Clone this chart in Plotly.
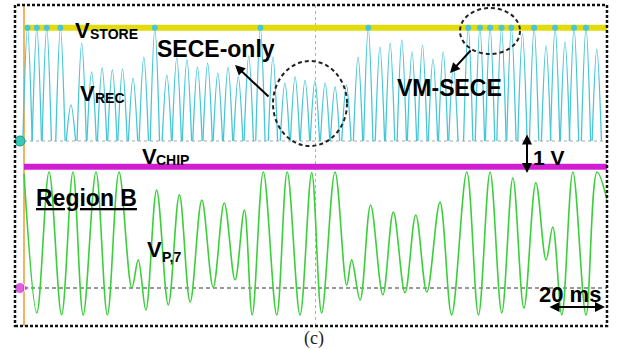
import plotly.graph_objects as go

# ---------------------------------------------------------------
# Oscilloscope capture, 20 ms/div, 1 V/div (10 x 8 divisions)
# ---------------------------------------------------------------
T_SPAN = 200.0          # ms across the screen
N_DIV_Y = 8

# channel ground levels, in divisions from the bottom of the screen
REC_GND = 4.61          # V_REC / V_STORE
VP_GND = 0.947          # V_P,7 / V_CHIP

V_STORE = 2.82          # V
V_CHIP = 3.02           # V

# V_REC: rectified pulses (time of each pulse peak in ms, peak voltage in V)
rec_t = [1.2, 4.4, 7.8, 12.5, 16.1, 19.8, 23.2, 26.8, 30.3, 33.8, 37.4, 41.1,
         44.9, 49.0, 52.4, 55.9, 59.5, 63.0, 66.5, 70.0, 73.5, 77.1, 81.1, 85.4,
         89.5, 93.0, 96.4, 99.8, 103.3, 106.7, 110.6, 114.6, 118.1, 122.1, 125.6,
         129.6, 133.1, 136.7, 140.3, 143.8, 147.3, 152.4, 156.4, 159.9, 163.8,
         167.2, 171.0, 175.0, 179.1, 182.2, 185.6, 188.7, 192.8, 196.5]
rec_v = [2.82, 2.82, 2.82, 2.82, 0.90, 2.44, 1.72, 1.82, 1.77, 1.79, 1.57, 2.09,
         2.82, 1.64, 2.07, 2.02, 1.84, 1.94, 1.69, 1.84, 1.60, 2.12, 2.82, 2.09,
         1.45, 1.60, 1.52, 1.50, 1.45, 1.35, 1.40, 2.09, 2.82, 2.34, 2.44, 2.52,
         2.22, 2.39, 2.04, 2.22, 1.84, 2.82, 2.82, 2.82, 2.82, 2.82, 2.67, 2.82,
         2.37, 2.82, 2.47, 2.82, 2.82, 2.29]
REC_HALF_WIDTH = 1.6    # ms, half width of one rectified pulse

# V_P,7: piezo voltage, successive extrema (ms, V)
vp_t = [0.0, 4.4, 8.6, 12.9, 16.8, 20.3, 24.7, 28.6, 32.6, 37.0, 39.2, 41.8,
        45.5, 49.5, 53.3, 57.0, 61.0, 64.9, 68.7, 72.4, 75.6, 78.3, 82.1, 86.7,
        90.3, 94.7, 98.7, 102.1, 106.7, 110.7, 112.4, 115.3, 118.9, 123.1, 126.7,
        130.7, 134.4, 138.2, 142.7, 146.7, 151.9, 155.9, 159.9, 163.9, 167.7,
        171.5, 175.6, 179.1, 181.4, 184.5, 188.3, 192.8, 196.6, 200.0]
vp_v = [2.85, -0.62, 2.89, -0.67, 2.89, -0.67, 2.89, -0.67, 2.89, 0.00, 0.70,
        -0.55, 2.44, -0.42, 2.32, -0.35, 2.19, 0.02, 2.12, 0.20, 1.94, -0.67,
        2.89, -0.67, 2.89, -0.67, 2.87, -0.62, 2.89, 0.07, 0.70, -0.30, 2.07,
        -0.17, 1.89, -0.12, 1.82, -0.10, 2.14, -0.67, 2.89, -0.67, 2.89, -0.62,
        2.74, -0.50, 2.62, 0.70, 1.52, -0.67, 2.89, -0.67, 2.89, 2.20]

# ---------------------------------------------------------------
# page / screen geometry (pixels)
W, H = 623, 349
SCR_L, SCR_R, SCR_T, SCR_B = 15, 607, 5, 326
T0_PX = 24                                    # trigger position, t = 0
PX_PER_MS = (SCR_R - T0_PX) / T_SPAN
PX_PER_DIV = (SCR_B - SCR_T) / N_DIV_Y
T_MIN = -(T0_PX - SCR_L) / PX_PER_MS


def tx(px):
    return T_MIN + (px - SCR_L) / PX_PER_MS


def dy(py):
    return (SCR_B - py) / PX_PER_DIV


def paper_x(px):
    return (px - SCR_L) / (SCR_R - SCR_L)


def paper_y(py):
    return (SCR_B - py) / (SCR_B - SCR_T)


CYAN = "#46c6d6"
YELLOW = "#e2dc0c"
MAGENTA = "#d21ed2"
GREEN = "#3ccf3c"
ORANGE = "#f2b460"
SANS = "Liberation Sans, Arial, sans-serif"

fig = go.Figure()

# V_STORE
fig.add_trace(go.Scatter(x=[0, T_SPAN], y=[REC_GND + V_STORE] * 2, mode="lines",
                         line=dict(color=YELLOW, width=6), hoverinfo="skip"))

# V_REC pulses, one arch per pulse
px_, py_ = [], []
for t, v in zip(rec_t, rec_v):
    px_ += [t - REC_HALF_WIDTH, t, t + REC_HALF_WIDTH, None]
    py_ += [REC_GND, REC_GND + v, REC_GND, None]
fig.add_trace(go.Scatter(x=px_, y=py_, mode="lines", connectgaps=False,
                         line=dict(color=CYAN, width=1.3, shape="spline"),
                         hoverinfo="skip"))
# pulses clamped at V_STORE
top_t = [t for t, v in zip(rec_t, rec_v) if v >= V_STORE]
fig.add_trace(go.Scatter(x=top_t, y=[REC_GND + V_STORE] * len(top_t), mode="markers",
                         marker=dict(color=CYAN, size=6, symbol="circle"),
                         hoverinfo="skip"))

# V_P,7
fig.add_trace(go.Scatter(x=vp_t, y=[VP_GND + v for v in vp_v], mode="lines",
                         line=dict(color=GREEN, width=1.6, shape="spline"),
                         hoverinfo="skip"))

# V_CHIP
fig.add_trace(go.Scatter(x=[0, T_SPAN], y=[VP_GND + V_CHIP] * 2, mode="lines",
                         line=dict(color=MAGENTA, width=6), hoverinfo="skip"))

# channel ground markers
fig.add_trace(go.Scatter(x=[tx(20)], y=[REC_GND], mode="markers", cliponaxis=False,
                         marker=dict(color="#38c8b8", size=10,
                                     line=dict(color="#1a9a8a", width=1)),
                         hoverinfo="skip"))
fig.add_trace(go.Scatter(x=[tx(20), tx(26)], y=[VP_GND, VP_GND], mode="markers",
                         cliponaxis=False,
                         marker=dict(color=MAGENTA, size=[11, 6],
                                     symbol=["circle", "triangle-right"]),
                         hoverinfo="skip"))

shapes = [
    # trigger line
    dict(type="line", xref="x", yref="paper", x0=0, x1=0, y0=0, y1=1,
         line=dict(color=ORANGE, width=2), layer="below"),
    # centre graticule line
    dict(type="line", xref="x", yref="paper", x0=T_SPAN / 2, x1=T_SPAN / 2, y0=0, y1=1,
         line=dict(color="#b0b0b0", width=1, dash="dot"), layer="below"),
    # ground references
    dict(type="line", xref="x", yref="y", x0=0, x1=T_SPAN, y0=REC_GND, y1=REC_GND,
         line=dict(color="#a8a8a8", width=1, dash="dot"), layer="below"),
    dict(type="line", xref="x", yref="y", x0=0, x1=T_SPAN, y0=VP_GND, y1=VP_GND,
         line=dict(color="#7a7a7a", width=1.5, dash="4px,3px"), layer="below"),
    # screen border
    dict(type="rect", xref="paper", yref="paper", x0=0, x1=1, y0=0, y1=1,
         line=dict(color="#111", width=2.5, dash="3px,2px")),
    # highlighted regions
    dict(type="circle", xref="x", yref="y", x0=tx(273), x1=tx(347), y0=dy(146), y1=dy(61),
         line=dict(color="#222", width=2, dash="4px,3px")),
    dict(type="circle", xref="x", yref="y", x0=tx(460), x1=tx(520), y0=dy(54), y1=dy(8),
         line=dict(color="#222", width=2, dash="4px,3px")),
]

ann = []


def label(text, left, cy, size, **kw):
    ann.append(dict(text=text, x=paper_x(left), y=paper_y(cy), xref="paper", yref="paper",
                    xanchor="left", yanchor="middle", showarrow=False,
                    font=dict(family=kw.pop("family", SANS), size=size,
                              color=kw.pop("color", "#000")), **kw))


def arrow(x_head, y_head, x_tail, y_tail, both=False):
    ann.append(dict(text="", x=paper_x(x_head), y=paper_y(y_head), xref="paper",
                    yref="paper", ax=x_tail - x_head, ay=y_tail - y_head,
                    showarrow=True, arrowhead=2, arrowsize=1, arrowwidth=2,
                    arrowcolor="#000", arrowside="end+start" if both else "end"))


label("<b>V</b>", 73, 30, 22)
label("<b>STORE</b>", 88, 34.5, 14)
label("<b>V</b>", 78, 93, 22)
label("<b>REC</b>", 93, 98.5, 14)
label("<b>V</b>", 140, 156, 22)
label("<b>CHIP</b>", 154, 159.5, 14)
label("<b>V</b>", 145, 249, 22)
label("<b>P,7</b>", 160, 257, 14)
label("<b>SECE-only</b>", 155, 49, 23)
label("<b>VM-SECE</b>", 395, 88, 23)
label("<b>1 V</b>", 531, 157, 21)
label("<b><u>Region B</u></b>", 34, 198, 23)
label("<b>20 ms</b>", 537, 294, 22)
ann.append(dict(text="(c)", x=paper_x(314), y=paper_y(339), xref="paper", yref="paper",
                xanchor="center", yanchor="middle", showarrow=False,
                font=dict(family="Liberation Serif, Times New Roman, serif", size=18,
                          color="#222")))

arrow(235, 65, 270, 98)
arrow(450, 73, 472, 49)
arrow(527, 173, 527, 133, both=True)
arrow(605, 307, 548, 307, both=True)

fig.update_layout(
    width=W, height=H,
    margin=dict(l=SCR_L, r=W - SCR_R, t=SCR_T, b=H - SCR_B),
    paper_bgcolor="white", plot_bgcolor="white",
    showlegend=False,
    xaxis=dict(range=[T_MIN, T_SPAN], visible=False, fixedrange=True),
    yaxis=dict(range=[0, N_DIV_Y], visible=False, fixedrange=True),
    shapes=shapes,
    annotations=ann,
)

fig.write_html("out.html")
